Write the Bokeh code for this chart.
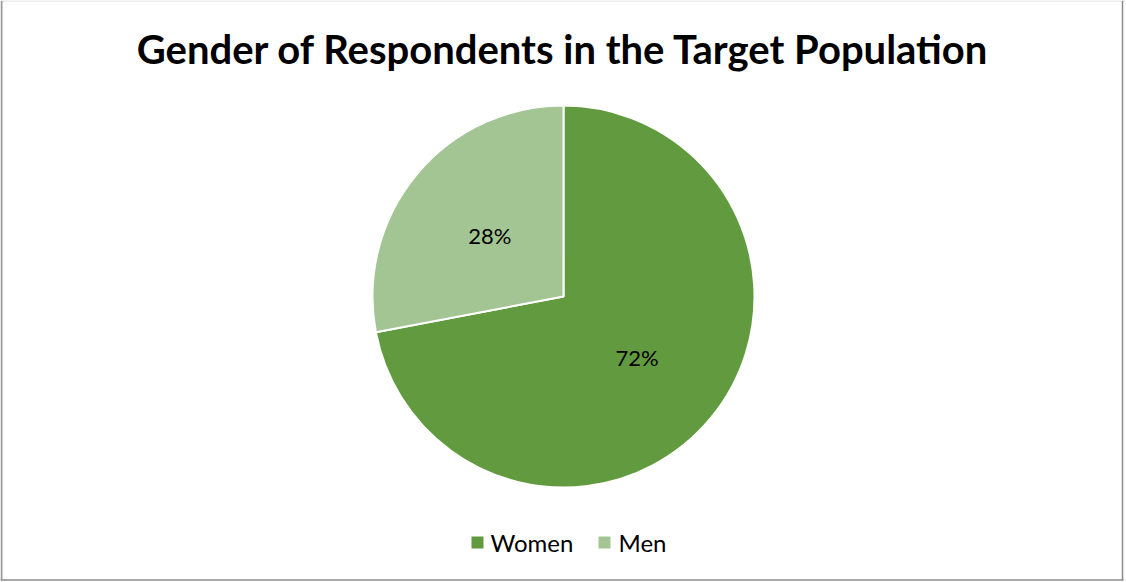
import numpy as np
from bokeh.plotting import figure
from bokeh.models import ColumnDataSource, Range1d
from bokeh.core.properties import value
from bokeh.embed import file_html
from bokeh.resources import INLINE

# Survey data
categories = ["Women", "Men"]
shares = [72, 28]
colors = ["#629b3f", "#a3c493"]
title_text = "Gender of Respondents in the Target Population"

W, H = 1126, 582
FONT = "Lato"

p = figure(width=W, height=H, output_backend="svg", toolbar_location=None,
           x_range=Range1d(0, W), y_range=Range1d(H, 0),
           min_border=0, match_aspect=False)
p.axis.visible = False
p.grid.visible = False
p.background_fill_color = "white"
p.border_fill_color = "white"
p.outline_line_color = None

# Chart-area frame: pale top edge, darker sides and bottom
p.segment(x0=[0, 1, 1122, 0], y0=[0.5, 0, 0, 579.5],
          x1=[W, 1, 1122, 1123], y1=[0.5, 580, 580, 579.5],
          line_color=["#d9d9d9", "#9a9a9a", "#8c8c8c", "#8c8c8c"],
          line_width=[1, 2, 1.5, 1.5])

# Pie geometry (y axis points down)
cx, cy, r = 563, 296, 191

frac = np.array(shares, dtype=float) / sum(shares)
cum = np.concatenate([[0], np.cumsum(frac)])
# slices run clockwise from 12 o'clock (angles as seen on screen)
start = np.pi / 2 - cum[:-1] * 2 * np.pi
end = np.pi / 2 - cum[1:] * 2 * np.pi
mid = (start + end) / 2

src = ColumnDataSource(dict(
    cat=categories, start=start, end=end, color=colors,
    lx=cx + 0.5 * r * np.cos(mid), ly=cy - 0.5 * r * np.sin(mid),
    label=[f"{s}%" for s in shares],
))

p.wedge(x=cx, y=cy, radius=r, radius_units="screen",
        start_angle="start", end_angle="end", direction="clock",
        fill_color="color", line_color="white", line_width=2, source=src)

p.text(x="lx", y="ly", text="label", source=src,
       text_font=value(FONT), text_font_size="22px", text_color="#000000",
       text_align="center", text_baseline="middle")

# Title
p.text(x=[W / 2], y=[48], text=[title_text], text_font=value(FONT),
       text_font_style="bold", text_font_size="40px", text_color="#000000",
       text_align="center", text_baseline="middle")

# Legend row
leg_sq_x = [477, 604]
leg_tx_x = [490, 618]
leg_y = 542
p.scatter(x=leg_sq_x, y=[leg_y] * 2, marker="square", size=12,
          fill_color=colors, line_color=None)
p.text(x=leg_tx_x, y=[leg_y] * 2, text=categories, text_font=value(FONT),
       text_font_size="24px", text_color="#000000",
       text_align="left", text_baseline="middle")

open("out.html", "w").write(file_html(p, INLINE))
